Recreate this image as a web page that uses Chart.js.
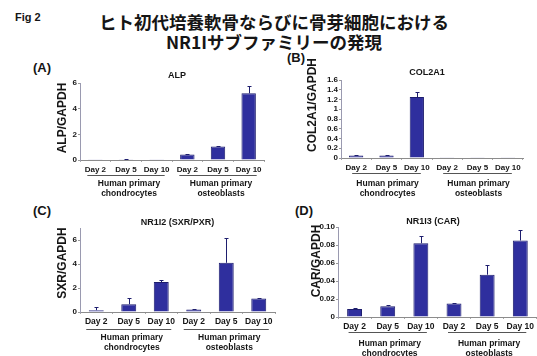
<!DOCTYPE html>
<html>
<head>
<meta charset="utf-8">
<script src="https://cdn.jsdelivr.net/npm/chart.js@4.4.0/dist/chart.umd.min.js"></script>
<style>
html, body { margin: 0; padding: 0; background: #fff; }
#fig { position: relative; width: 537px; height: 356px; overflow: hidden; font-family: "Liberation Sans", Arial, sans-serif; }
#fig canvas { position: absolute; }
.lbl { position: absolute; font-weight: bold; color: #151515; white-space: nowrap; line-height: 1; }
</style>
</head>
<body>
<div id="fig">
  <div class="lbl" style="left:15px;top:12px;font-size:11px;">Fig 2</div>
  <div class="lbl" style="left:0;width:548px;top:12px;text-align:center;font-family:'Noto Sans CJK JP',sans-serif;font-size:17.5px;line-height:20px;">ヒト初代培養軟骨ならびに骨芽細胞における<br>NR1Iサブファミリーの発現</div>
  <div class="lbl" style="left:33px;top:61px;font-size:13px;">(A)</div>
  <div class="lbl" style="left:287px;top:51px;font-size:13px;">(B)</div>
  <div class="lbl" style="left:33px;top:204px;font-size:13px;">(C)</div>
  <div class="lbl" style="left:295px;top:204px;font-size:13px;">(D)</div>
  <canvas id="pA" width="270" height="140" style="left:0;top:60px;"></canvas>
  <canvas id="pB" width="267" height="145" style="left:270px;top:55px;"></canvas>
  <canvas id="pC" width="282" height="151" style="left:0;top:205px;"></canvas>
  <canvas id="pD" width="267" height="151" style="left:270px;top:205px;"></canvas>
</div>
<script>
// Culture days, shared by every panel
const days = ['Day 2', 'Day 5', 'Day 10', 'Day 2', 'Day 5', 'Day 10'];
// Cell types, three days each
const groups = [['Human primary', 'chondrocytes'], ['Human primary', 'osteoblasts']];

// (A) ALP / GAPDH
const alpMean = [0.01, 0.05, 0.01, 0.42, 1.05, 5.2];
const alpErr  = [0, 0.02, 0, 0.05, 0.07, 0.6];
const alpTicks = [0, 2, 4, 6];

// (B) COL2A1 / GAPDH
const colMean = [0.05, 0.05, 1.25, 0.005, 0.005, 0.005];
const colErr  = [0.01, 0.01, 0.11, 0, 0, 0];
const colTicks = [0, 0.2, 0.4, 0.6, 0.8, 1, 1.2, 1.4, 1.6];

// (C) NR1I2 (SXR/PXR) / GAPDH
const sxrMean = [0.15, 0.65, 2.5, 0.2, 4.1, 1.13];
const sxrErr  = [0.3, 0.55, 0.2, 0.05, 2.1, 0.07];
const sxrTicks = [0, 2, 4, 6];

// (D) NR1I3 (CAR) / GAPDH
const carMean = [0.009, 0.012, 0.082, 0.015, 0.047, 0.085];
const carErr  = [0.0005, 0.001, 0.008, 0.001, 0.011, 0.012];
const carTicks = [0, 0.02, 0.04, 0.06, 0.08, 0.10];

const FONT = '"Liberation Sans", Arial, sans-serif';
const INK = '#151515';
const BAR = '#2f2f9e';
const EDGE = '#1e1e6e';

// Error bars, y tick labels, chart title, rotated y title and cell-type brackets
const panelDeco = {
  id: 'panelDeco',
  afterDatasetsDraw(chart, args, o) {
    const { ctx, scales: { x, y } } = chart;
    const vals = chart.data.datasets[0].data;
    ctx.save();
    ctx.strokeStyle = EDGE;
    ctx.lineWidth = 1;
    o.err.forEach((e, i) => {
      if (!e) return;
      const px = Math.round(x.getPixelForValue(i)) + 0.5;
      const y0 = y.getPixelForValue(vals[i]);
      const y1 = Math.round(y.getPixelForValue(vals[i] + e)) + 0.5;
      ctx.beginPath();
      ctx.moveTo(px, y0);
      ctx.lineTo(px, y1);
      ctx.moveTo(px - 2, y1);
      ctx.lineTo(px + 2, y1);
      ctx.stroke();
    });
    ctx.restore();
  },
  afterDraw(chart, args, o) {
    const { ctx, chartArea: a, scales: { x, y } } = chart;
    ctx.save();
    ctx.fillStyle = INK;

    // y tick labels, one per listed tick value
    ctx.font = 'bold 8px ' + FONT;
    ctx.textAlign = 'right';
    ctx.textBaseline = 'middle';
    o.ticks.forEach(v => {
      ctx.fillText(o.fmt(v), a.left - 3, y.getPixelForValue(v));
    });

    ctx.textAlign = 'center';
    ctx.font = 'bold 9px ' + FONT;
    ctx.fillText(o.title, (a.left + a.right) / 2 + o.titleDx, a.top + o.titleDy);

    ctx.save();
    ctx.translate(o.yTitleX, (a.top + a.bottom) / 2 + o.yTitleDy);
    ctx.rotate(-Math.PI / 2);
    ctx.font = 'bold 12px ' + FONT;
    ctx.fillText(o.yTitle, 0, 0);
    ctx.restore();

    ctx.strokeStyle = '#555';
    ctx.lineWidth = 1;
    ctx.font = 'bold 8.5px ' + FONT;
    groups.forEach((g, gi) => {
      const x0 = x.getPixelForValue(gi * 3);
      const x1 = x.getPixelForValue(gi * 3 + 2);
      const ly = Math.round(a.bottom + o.lineDy) + 0.5;
      ctx.beginPath();
      ctx.moveTo(x0 - o.lineOut, ly);
      ctx.lineTo(x1 + o.lineOut, ly);
      ctx.stroke();
      const cx = (x0 + x1) / 2 + o.groupDx;
      ctx.fillText(g[0], cx, ly + o.g1Dy);
      ctx.fillText(g[1], cx, ly + o.g2Dy);
    });
    ctx.restore();
  }
};

function makePanel(id, p) {
  return new Chart(document.getElementById(id), {
    type: 'bar',
    data: {
      labels: days,
      datasets: [{
        data: p.mean,
        backgroundColor: BAR,
        borderColor: EDGE,
        borderWidth: 1,
        barPercentage: p.barPct,
        categoryPercentage: 1
      }]
    },
    options: {
      responsive: false,
      animation: false,
      devicePixelRatio: 1,
      layout: { padding: { left: 0, top: p.padTop, right: p.padRight, bottom: p.padBottom } },
      plugins: {
        legend: { display: false },
        tooltip: { enabled: false },
        title: { display: false },
        panelDeco: Object.assign({ ticks: p.ticks, fmt: p.fmt }, p.deco)
      },
      scales: {
        x: {
          grid: { display: true, drawOnChartArea: false, offset: true, tickLength: 2, color: '#aaa' },
          border: { color: '#8c8c8c', width: 1 },
          ticks: { color: INK, font: { size: p.xFont, weight: 'bold', family: FONT }, padding: 3, maxRotation: 0, autoSkip: false },
          afterFit: s => { s.height = p.xH; }
        },
        y: {
          min: 0,
          max: p.max,
          afterBuildTicks: s => { s.ticks = p.ticks.map(v => ({ value: v })); },
          ticks: {
            color: 'rgba(0,0,0,0)',
            font: { size: 8, weight: 'bold', family: FONT, lineHeight: 1 },
            padding: 1,
            autoSkip: false,
            includeBounds: false
          },
          grid: { display: true, drawOnChartArea: false, drawTicks: true, tickLength: 2, color: '#999' },
          border: { color: '#9a9ab0', width: 1, dash: [1, 2] },
          afterFit: s => { s.width = p.yW; }
        }
      }
    },
    plugins: [panelDeco]
  });
}

makePanel('pA', {
  mean: alpMean, ticks: alpTicks, max: 6, fmt: v => String(v),
  barPct: 0.47, xFont: 8,
  yW: 80, padTop: 23, padRight: 6, padBottom: 24, xH: 16,
  deco: { err: alpErr, title: 'ALP', titleDx: 5, titleDy: -7,
          yTitle: 'ALP/GAPDH', yTitleX: 63, yTitleDy: -3.5,
          lineDy: 15, lineOut: 8, groupDx: 3, g1Dy: 8.3, g2Dy: 17.7 }
});

makePanel('pB', {
  mean: colMean, ticks: colTicks, max: 1.6, fmt: v => String(Math.round(v * 10) / 10),
  barPct: 0.47, xFont: 8,
  yW: 71, padTop: 25, padRight: 14, padBottom: 26, xH: 16,
  deco: { err: colErr, title: 'COL2A1', titleDx: -5, titleDy: -7,
          yTitle: 'COL2A1/GAPDH', yTitleX: 43, yTitleDy: -14,
          lineDy: 15, lineOut: 4, groupDx: 1, g1Dy: 9.7, g2Dy: 19.7 }
});

makePanel('pC', {
  mean: sxrMean, ticks: sxrTicks, max: 7, fmt: v => String(v),
  barPct: 0.46, xFont: 8.5,
  yW: 80, padTop: 23, padRight: 7, padBottom: 28, xH: 16,
  deco: { err: sxrErr, title: 'NR1I2 (SXR/PXR)', titleDx: 0, titleDy: -5,
          yTitle: 'SXR/GAPDH', yTitleX: 63, yTitleDy: -7,
          lineDy: 16.5, lineOut: 10, groupDx: 3, g1Dy: 8, g2Dy: 18.5 }
});

makePanel('pD', {
  mean: carMean, ticks: carTicks, max: 0.10, fmt: v => (v === 0 ? '0' : v.toFixed(2)),
  barPct: 0.45, xFont: 8.5,
  yW: 68, padTop: 22, padRight: 0, padBottom: 23, xH: 16,
  deco: { err: carErr, title: 'NR1I3 (CAR)', titleDx: -4.5, titleDy: -5,
          yTitle: 'CAR/GAPDH', yTitleX: 47, yTitleDy: -11,
          lineDy: 15, lineOut: 6, groupDx: 2, g1Dy: 10.7, g2Dy: 20.7 }
});
</script>
</body>
</html>
